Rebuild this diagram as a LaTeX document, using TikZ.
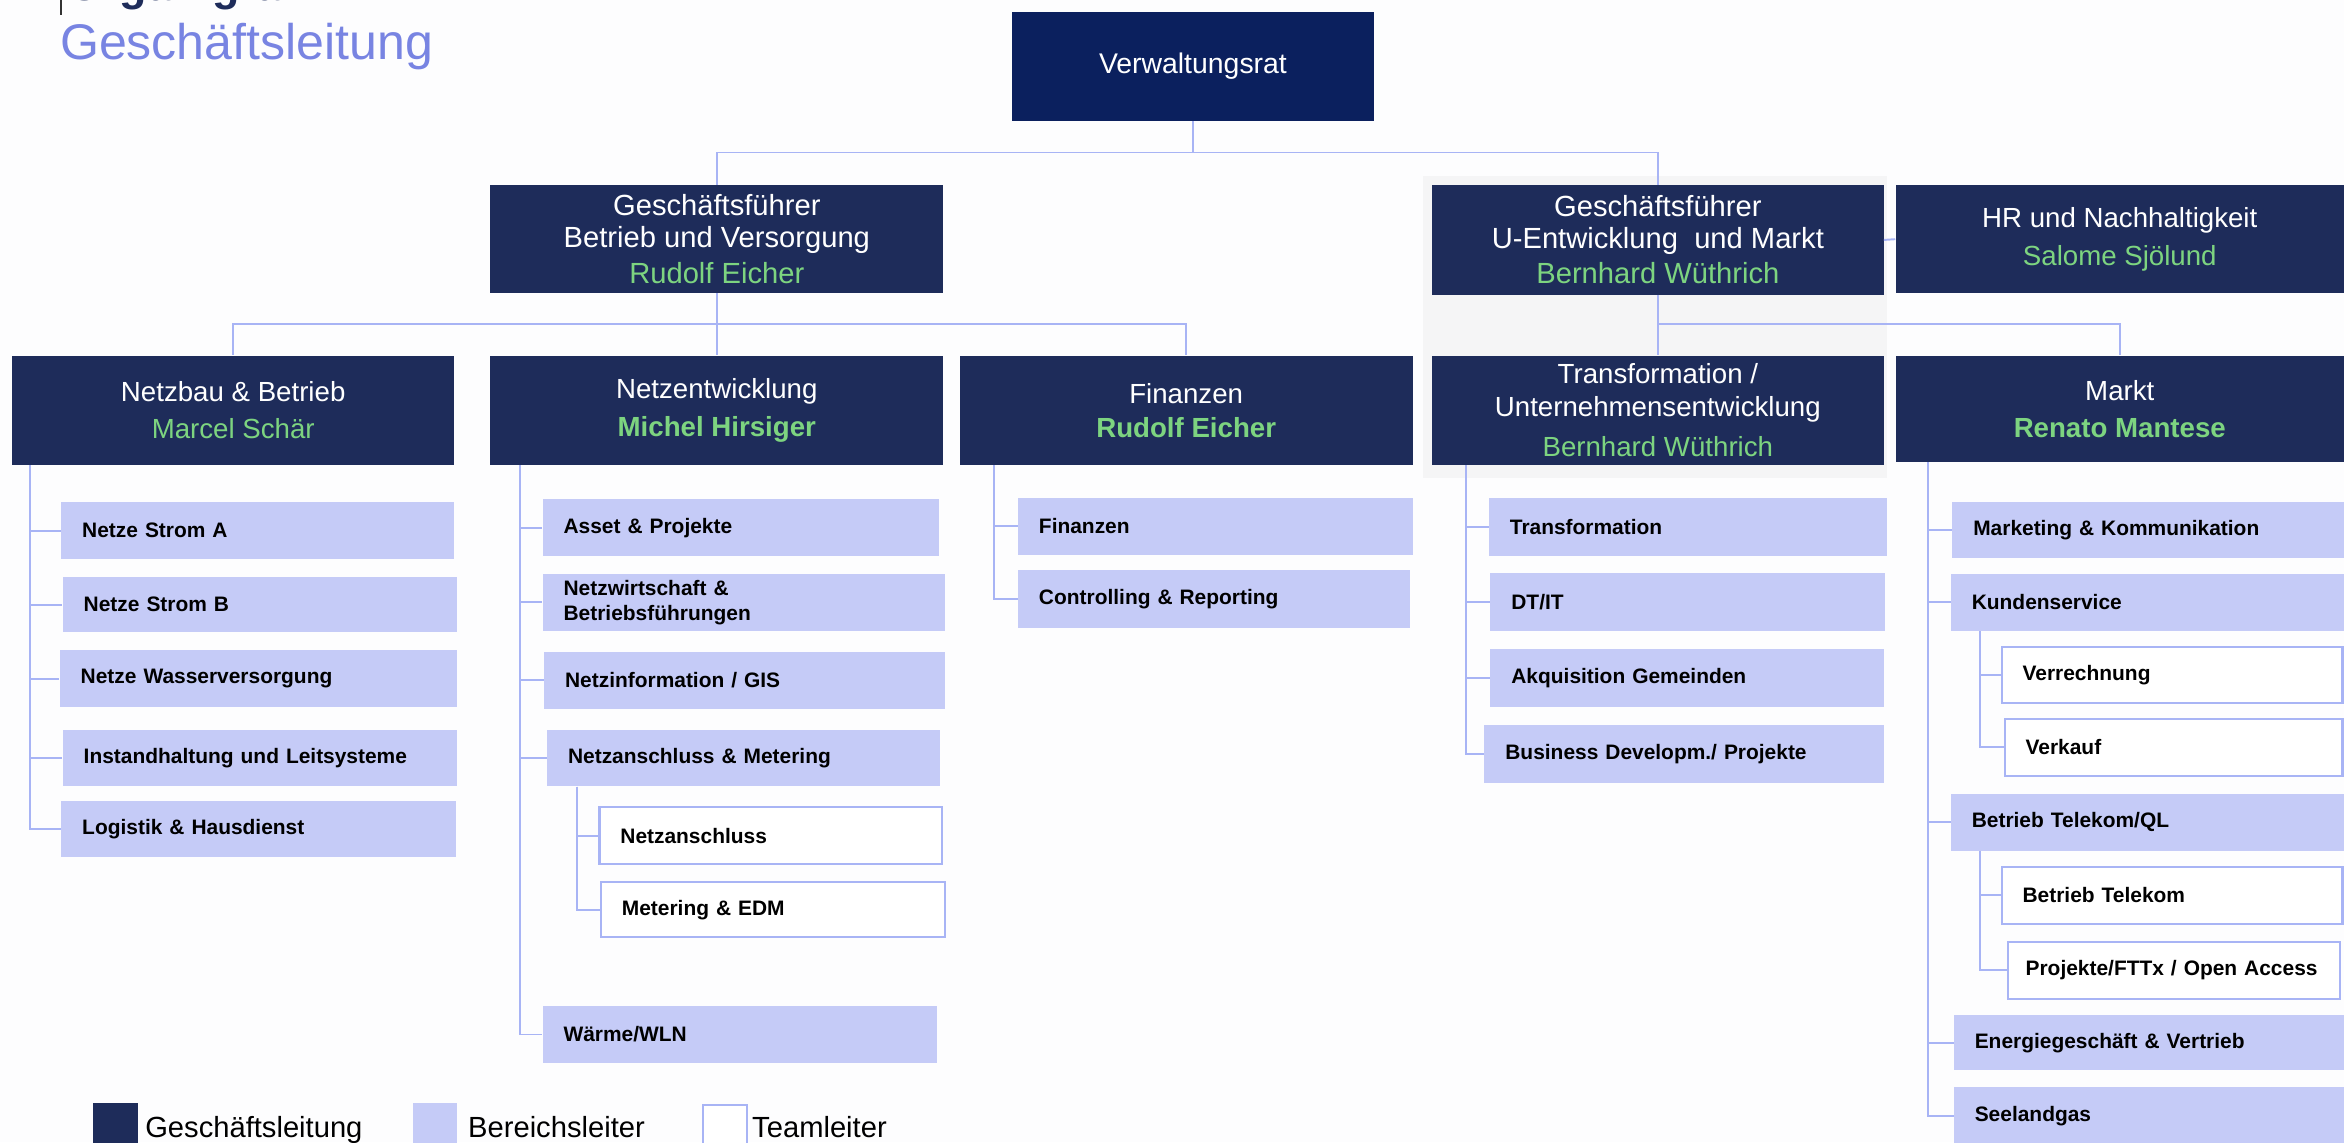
\documentclass[tikz,border=0pt]{standalone}
\usepackage{fontspec}
\setmainfont{Liberation Sans}
\hyphenpenalty=10000
\exhyphenpenalty=10000
\definecolor{navy}{RGB}{30,44,90}
\definecolor{vrnavy}{RGB}{11,32,94}
\definecolor{lightb}{RGB}{197,203,247}
\definecolor{linec}{RGB}{168,180,245}
\definecolor{greenn}{RGB}{125,212,128}
\definecolor{titleb}{RGB}{120,132,226}
\definecolor{bgc}{RGB}{253,253,254}
\definecolor{panelc}{RGB}{245,245,246}
\tikzset{
  headbox/.style={fill=navy, text=white, align=center, inner sep=0pt, font=\fontsize{18.5}{25}\selectfont},
  gfbox/.style={headbox, font=\fontsize{19.5}{21}\selectfont},
  areabox/.style={fill=lightb, text=black, align=left, inner ysep=0pt, inner xsep=14pt, font=\bfseries\fontsize{14}{17}\selectfont},
  teambox/.style={areabox, fill=white, draw=linec, line width=1.4pt},
  conn/.style={draw=linec, line width=1.3pt},
  legtext/.style={anchor=base west, inner sep=0pt, font=\fontsize{19.5}{20}\selectfont, text=black},
}
\newcommand{\mkhead}[7]{%
  \pgfmathsetmacro{\mkw}{#5-#3}\pgfmathsetmacro{\mkh}{#6-#4}%
  \pgfmathsetmacro{\mkx}{(#3+#5)/2}\pgfmathsetmacro{\mky}{(#4+#6)/2}%
  \node[#1, minimum width=\mkw pt, minimum height=\mkh pt] (#2) at (\mkx,\mky) {#7};}
\newcommand{\mkarea}[7]{%
  \pgfmathsetmacro{\mkw}{#5-#3-28}\pgfmathsetmacro{\mkh}{#6-#4}%
  \pgfmathsetmacro{\mkx}{(#3+#5)/2}\pgfmathsetmacro{\mky}{(#4+#6)/2}%
  \node[#1, text width=\mkw pt, minimum height=\mkh pt] (#2) at (\mkx,\mky) {#7};}
\newcommand{\gname}[1]{\textcolor{greenn}{#1}}
\begin{document}
\begin{tikzpicture}[x=1pt,y=-1pt]
\useasboundingbox (0,0) rectangle (1568,764);
\fill[bgc] (0,0) rectangle (1568,764);
\fill[panelc] (952,118) rectangle (1262,320);
% title
\draw[black!80, line width=1.2pt] (41,0) -- (41,10);
\node[anchor=base west, inner sep=0pt, font=\bfseries\fontsize{30}{30}\selectfont, text=navy] (toptitle) at (45,0) {Organigramm};
\node[anchor=base west, inner sep=0pt, font=\fontsize{33.5}{33.5}\selectfont, text=titleb] (title) at (40,40) {Geschäftsleitung};
% top level
\mkhead{headbox, fill=vrnavy, font=\fontsize{19}{22}\selectfont}{vr}{677}{8}{919}{81}{Verwaltungsrat}
\mkhead{gfbox}{gf1}{328}{124}{631}{196}{Geschäftsführer\\Betrieb und Versorgung\\[3pt]\gname{Rudolf Eicher}}
\mkhead{gfbox}{gf2}{958}{124}{1260}{197}{Geschäftsführer\\U-Entwicklung\ \ und Markt\\[3pt]\gname{Bernhard Wüthrich}}
\mkhead{headbox}{hr}{1268}{124}{1568}{196}{HR und Nachhaltigkeit\\\gname{Salome Sjölund}}
% second level
\mkhead{headbox}{nb}{8}{238}{304}{311}{Netzbau \& Betrieb\\\gname{Marcel Schär}}
\mkhead{headbox}{ne}{328}{238}{631}{311}{Netzentwicklung\\\gname{\bfseries Michel Hirsiger}}
\mkhead{headbox, font=\fontsize{18.5}{23}\selectfont}{fi}{642}{238}{945}{311}{Finanzen\\\gname{\bfseries Rudolf Eicher}}
\mkhead{headbox, font=\fontsize{18.5}{22}\selectfont}{tr}{958}{238}{1260}{311}{Transformation /\\Unternehmensentwicklung\\[5pt]\gname{Bernhard Wüthrich}}
\mkhead{headbox}{mk}{1268}{238}{1568}{309}{Markt\\\gname{\bfseries Renato Mantese}}
% connectors top
\coordinate (lvA) at (0,102);
\coordinate (lvB) at (0,217);
\draw[conn] (vr.south) -- (vr.south |- lvA) -| (gf1.north);
\draw[conn] (vr.south |- lvA) -| (gf2.north);
\draw[conn] (gf2.east) -- (hr.west);
\draw[conn] (gf1.south) -- (gf1.south |- lvB) -| (nb.north);
\draw[conn] (gf1.south |- lvB) -| (ne.north);
\draw[conn] (gf1.south |- lvB) -| (fi.north);
\draw[conn] (gf2.south) -- (gf2.south |- lvB) -| (tr.north);
\draw[conn] (gf2.south |- lvB) -| (mk.north);
% Netzbau children
\mkarea{areabox}{nb1}{41}{336}{304}{374}{Netze Strom A}
\mkarea{areabox}{nb2}{42}{386}{306}{423}{Netze Strom B}
\mkarea{areabox}{nb3}{40}{435}{306}{473}{Netze Wasserversorgung}
\mkarea{areabox}{nb4}{42}{488}{306}{526}{Instandhaltung und Leitsysteme}
\mkarea{areabox}{nb5}{41}{536}{305}{573}{Logistik \& Hausdienst}
\foreach \c in {nb1,nb2,nb3,nb4,nb5} \draw[conn] ([xshift=12pt]nb.south west) |- (\c.west);
% Netzentwicklung children
\mkarea{areabox}{ne1}{363}{334}{628}{372}{Asset \& Projekte}
\mkarea{areabox}{ne2}{363}{384}{632}{422}{Netzwirtschaft \&\\Betriebsführungen}
\mkarea{areabox}{ne3}{364}{436}{632}{474}{Netzinformation / GIS}
\mkarea{areabox}{ne4}{366}{488}{629}{526}{Netzanschluss \& Metering}
\mkarea{teambox}{ne41}{401}{540}{630}{578}{Netzanschluss}
\mkarea{teambox}{ne42}{402}{590}{632}{627}{Metering \& EDM}
\mkarea{areabox}{ne5}{363}{673}{627}{711}{Wärme/WLN}
\foreach \c in {ne1,ne2,ne3,ne4,ne5} \draw[conn] ([xshift=20pt]ne.south west) |- (\c.west);
\foreach \c in {ne41,ne42} \draw[conn] ([xshift=20pt]ne4.south west) |- (\c.west);
% Finanzen children
\mkarea{areabox}{fi1}{681}{333}{945}{371}{Finanzen}
\mkarea{areabox}{fi2}{681}{381}{943}{420}{Controlling \& Reporting}
\foreach \c in {fi1,fi2} \draw[conn] ([xshift=23pt]fi.south west) |- (\c.west);
% Transformation children
\mkarea{areabox}{tr1}{996}{333}{1262}{372}{Transformation}
\mkarea{areabox}{tr2}{997}{383}{1261}{422}{DT/IT}
\mkarea{areabox}{tr3}{997}{434}{1260}{473}{Akquisition Gemeinden}
\mkarea{areabox}{tr4}{993}{485}{1260}{524}{Business Developm./ Projekte}
\foreach \c in {tr1,tr2,tr3,tr4} \draw[conn] ([xshift=23pt]tr.south west) |- (\c.west);
% Markt children
\mkarea{areabox}{mk1}{1306}{336}{1568}{373}{Marketing \& Kommunikation}
\mkarea{areabox}{mk2}{1305}{384}{1568}{422}{Kundenservice}
\mkarea{teambox}{mk21}{1339}{433}{1567}{470}{Verrechnung}
\mkarea{teambox}{mk22}{1341}{481}{1567}{519}{Verkauf}
\mkarea{areabox}{mk3}{1305}{531}{1568}{569}{Betrieb Telekom/QL}
\mkarea{teambox}{mk31}{1339}{580}{1567}{618}{Betrieb Telekom}
\mkarea{teambox, inner xsep=12pt}{mk32}{1341}{630}{1567}{668}{Projekte/FTTx / Open Access}
\mkarea{areabox}{mk4}{1307}{679}{1568}{716}{Energiegeschäft \& Vertrieb}
\mkarea{areabox}{mk5}{1307}{727}{1568}{766}{Seelandgas}
\foreach \c in {mk1,mk2,mk3,mk4,mk5} \draw[conn] ([xshift=22pt]mk.south west) |- (\c.west);
\foreach \c in {mk21,mk22} \draw[conn] ([xshift=20pt]mk2.south west) |- (\c.west);
\foreach \c in {mk31,mk32} \draw[conn] ([xshift=20pt]mk3.south west) |- (\c.west);
% legend
\node[fill=navy, minimum width=30pt, minimum height=28pt, inner sep=0pt] (lg1) at (77,752) {};
\node[legtext] (lt1) at (97,761) {Geschäftsleitung};
\node[fill=lightb, minimum width=30pt, minimum height=28pt, inner sep=0pt] (lg2) at (291,752) {};
\node[legtext] (lt2) at (313,761) {Bereichsleiter};
\node[fill=white, draw=linec, line width=1.4pt, minimum width=29pt, minimum height=28pt, inner sep=0pt] (lg3) at (485,753) {};
\node[legtext] (lt3) at (503,761) {Teamleiter};
\end{tikzpicture}
\end{document}
